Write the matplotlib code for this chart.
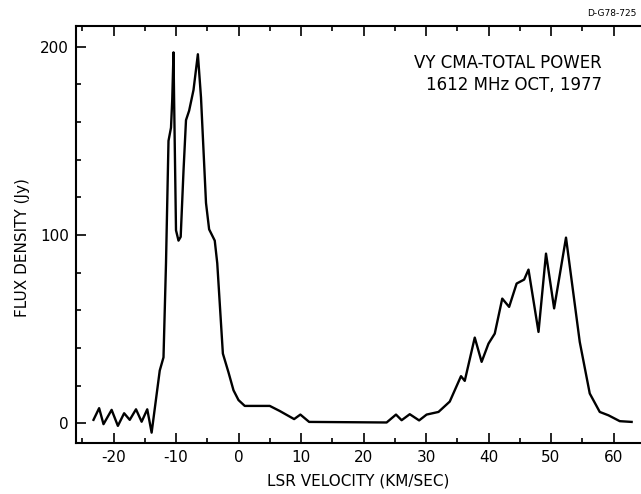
import matplotlib
matplotlib.use("Agg")
import matplotlib.pyplot as plt
from matplotlib.ticker import MultipleLocator

# LSR velocity (km/s) and flux density (Jy)
velocity = [-23.2, -22.3, -21.6, -20.3, -19.3, -18.3, -17.4, -16.4, -15.5,
            -14.6, -13.9, -12.6, -12.0, -11.6, -11.2, -10.8, -10.6, -10.4,
            -10.3, -10.0, -9.6, -9.25, -8.8, -8.4, -7.9, -7.2, -6.5, -6.0,
            -5.2, -4.7, -3.8, -3.4, -2.5, -1.6, -0.8, 0.0, 1.0, 5.0, 6.6,
            8.9, 9.9, 11.3, 23.7, 25.2, 26.1, 27.4, 28.9, 30.1, 32.0, 33.8,
            35.6, 36.2, 37.8, 38.9, 40.0, 41.0, 42.2, 43.3, 44.5, 45.7,
            46.4, 48.0, 49.2, 50.5, 52.4, 54.6, 56.2, 57.8, 59.2, 61.0, 62.9]
flux = [1.8, 8.0, -0.5, 7.1, -1.4, 5.3, 1.8, 7.4, 0.8,
        7.4, -5.0, 28, 35, 85, 150, 157, 172, 197,
        171, 102.5, 97, 99, 134, 161, 166, 177, 196, 173,
        117, 103, 97, 85, 37, 27, 17.5, 12.3, 9.2, 9.2, 6.5,
        2.2, 4.6, 0.7, 0.4, 4.6, 1.6, 4.8, 1.5, 4.6, 6.0, 11.5,
        25, 22.5, 45.5, 32.6, 42.3, 47.6, 66.2, 61.8, 74.2, 76.3,
        81.6, 48.5, 90.1, 61, 98.6, 43.2, 15.8, 6.0, 4.2, 1.1, 0.7]

x_ticks = [-20, -10, 0, 10, 20, 30, 40, 50, 60]
y_ticks = [0, 100, 200]

W, H = 641, 494
fig = plt.figure(figsize=(W / 100, H / 100), dpi=100)
ax = fig.add_axes([76 / W, 1 - 443 / H, 1 - 76 / W, (443 - 26) / H])

ax.plot(velocity, flux, color="black", lw=1.7)

ax.set_xlim(-26.0, 64.4)
ax.set_ylim(-10.5, 211)
ax.set_xticks(x_ticks)
ax.set_yticks(y_ticks)
ax.set_xticklabels([str(t) for t in x_ticks])
ax.set_yticklabels([str(t) for t in y_ticks])
ax.xaxis.set_minor_locator(MultipleLocator(5))
ax.yaxis.set_minor_locator(MultipleLocator(20))
ax.tick_params(which="both", direction="in", top=True, right=False,
               width=1.2, labelsize=11, pad=5)
ax.tick_params(which="major", length=7)
ax.tick_params(which="minor", length=3.5)

for side in ["left", "bottom", "top"]:
    ax.spines[side].set_linewidth(1.5)
ax.spines["right"].set_visible(False)

ax.set_xlabel("LSR VELOCITY (KM/SEC)", fontsize=11, labelpad=6)
fig.text(23 / W, 1 - 248 / H, "FLUX DENSITY (Jy)", rotation=90,
         ha="center", va="center", fontsize=11)

fig.text(508 / W, 1 - 63 / H, "VY CMA-TOTAL POWER", ha="center",
         va="center", fontsize=12)
fig.text(514 / W, 1 - 85 / H, "1612 MHz OCT, 1977", ha="center",
         va="center", fontsize=12)
fig.text(612 / W, 1 - 13 / H, "D-G78-725", ha="center", va="center",
         fontsize=6.5)

fig.savefig("out.png", dpi=100)
